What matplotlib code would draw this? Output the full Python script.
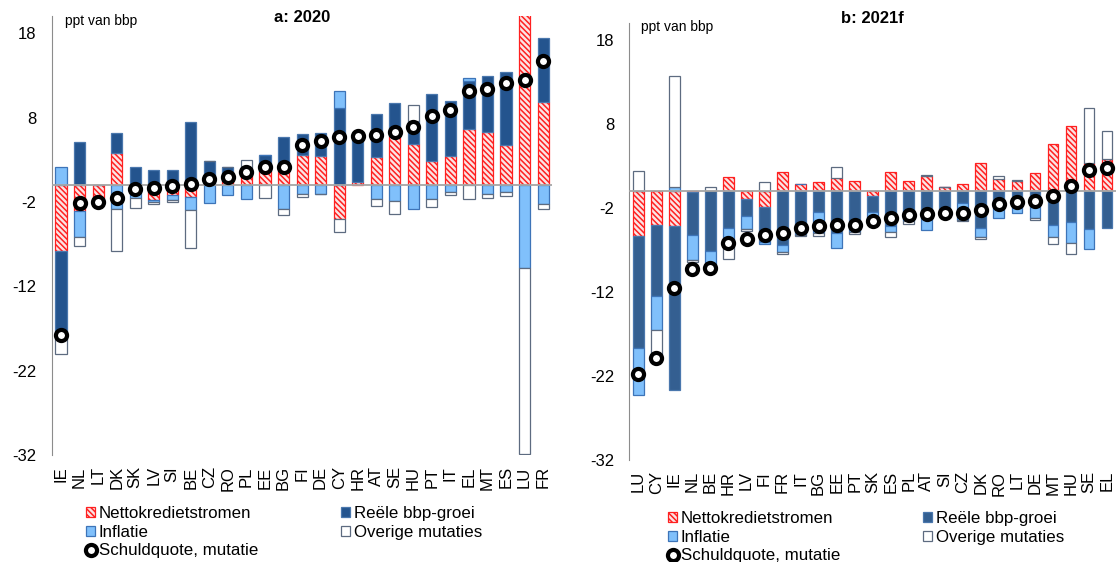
import numpy as np
import matplotlib.pyplot as plt
from matplotlib.patches import Patch
from matplotlib.lines import Line2D

plt.rcParams['font.family'] = ['Liberation Sans', 'DejaVu Sans']
plt.rcParams['hatch.linewidth'] = 1.1
plt.rcParams['axes.unicode_minus'] = False

# a: 2020
left_countries = ['IE', 'NL', 'LT', 'DK', 'SK', 'LV', 'SI', 'BE', 'CZ', 'RO', 'PL', 'EE', 'BG', 'FI',
                  'DE', 'CY', 'HR', 'AT', 'SE', 'HU', 'PT', 'IT', 'EL', 'MT', 'ES', 'LU', 'FR']
left_netto = [-7.8, -3.05, -1.5, 3.76, 0, -1.78, -1.19, -1.46, 0, 0.5, 1.5, 1.7, 1.7, 3.6,
              3.44, -3.96, 0.4, 3.29, 5.86, 4.83, 2.89, 3.48, 6.65, 6.25, 4.71, 20.5, 9.82]
left_reele = [-10.4, 5.07, 0, 2.38, 2.1, 1.74, 1.74, 7.48, 2.81, 1.6, 0.3, 1.86, 3.96, 2.46,
              2.74, 9.14, 5.45, 5.14, 3.92, 2.81, 7.92, 6.46, 5.66, 6.65, 8.71, 0, 7.64]
left_infl = [2.1, -3.05, -0.4, -2.85, -1.54, -0.2, -0.55, -1.5, -2.06, -1.19, -1.7, 0, -2.85, -1.07,
             -1.0, 1.98, 0, -1.7, -1.86, -2.85, -1.7, -0.87, 0.4, -1.03, -0.83, -9.79, -2.26]
left_other = [-1.8, -1.15, -0.1, -4.95, -1.19, -0.28, -0.24, -4.47, 0, 0.1, 1.2, -1.54, -0.71, -0.3,
              -0.1, -1.54, 0, -0.83, -1.62, 1.86, -0.95, -0.28, -1.66, -0.55, -0.51, -22.1, -0.6]
left_debt = [-17.8, -2.06, -2.0, -1.58, -0.48, -0.4, -0.08, 0.12, 0.71, 0.95, 1.5, 2.1, 2.18, 4.79,
             5.19, 5.7, 5.86, 5.98, 6.33, 6.85, 8.19, 8.9, 11.12, 11.36, 12.15, 12.47, 14.65]

# b: 2021f
right_countries = ['LU', 'CY', 'IE', 'NL', 'BE', 'HR', 'LV', 'FI', 'FR', 'IT', 'BG', 'EE', 'PT', 'SK',
                   'ES', 'PL', 'AT', 'SI', 'CZ', 'DK', 'RO', 'LT', 'DE', 'MT', 'HU', 'SE', 'EL']
right_netto = [-5.31, -4.0, -4.12, -0.16, 0, 1.62, -0.95, -1.9, 2.3, 0.83, 1.1, 1.5, 1.19, -0.63,
               2.22, 1.15, 1.74, 0.44, 0.87, 3.37, 1.47, 1.15, 2.14, 5.59, 7.77, 3.33, 3.8]
right_reele = [-13.39, -8.44, -19.57, -5.03, -7.17, -4.44, -2.06, -4.2, -6.38, -5.19, -2.46, -5.0, -4.5, -1.9,
               -4.2, -2.22, -2.61, -2.61, -1.43, -4.4, -1.82, -1.82, -1.94, -4.04, -3.72, -4.52, -4.4]
right_infl = [-5.51, -4.04, 0.44, -2.97, -1.78, -2.14, -1.5, -0.2, -0.87, 0, -2.54, -1.78, -0.4, -0.8,
              -0.71, -1.39, -2.06, 0, -1.98, -1.07, -1.39, -0.8, -1.27, -1.43, -2.46, -2.38, 0]
right_other = [2.38, -3.37, 13.27, -0.24, 0.44, -1.5, -0.3, 1.03, -0.2, -0.1, -0.4, 1.35, -0.2, -0.2,
               -0.59, -0.3, 0.2, 0, -0.16, -0.24, 0.28, 0.16, -0.2, -0.83, -1.27, 6.5, 3.37]
right_debt = [-21.75, -19.85, -11.57, -9.27, -9.15, -6.14, -5.67, -5.23, -5.0, -4.36, -4.2, -4.08, -4.04, -3.53,
              -3.25, -2.81, -2.73, -2.61, -2.61, -2.3, -1.5, -1.35, -1.19, -0.63, 0.55, 2.54, 2.69]

labels = ['Nettokredietstromen', 'Reële bbp-groei', 'Inflatie', 'Overige mutaties', 'Schuldquote, mutatie']
yticks = [18, 8, -2, -12, -22, -32]

net_face = '#fbe4e4'
net_edge = '#ff2020'
net_hatch = '\\\\\\\\\\\\'


def draw_panel(ax, countries, netto, reele, infl, other, debt, title, dark):
    x = np.arange(len(countries))
    styles = [
        dict(facecolor=net_face, edgecolor=net_edge, hatch=net_hatch),
        dict(facecolor=dark, edgecolor='#4a77ad'),
        dict(facecolor='#80c0fb', edgecolor='#3d74b8'),
        dict(facecolor='white', edgecolor='#5d6b80'),
    ]
    pos = np.zeros(len(x))
    neg = np.zeros(len(x))
    # positieve en negatieve delen apart stapelen
    for vals, st in zip([netto, reele, infl, other], styles):
        vals = np.asarray(vals, dtype=float)
        bottom = np.where(vals >= 0, pos, neg)
        ax.bar(x, vals, 0.6, bottom=bottom, linewidth=0.9, zorder=2, **st)
        pos += np.clip(vals, 0, None)
        neg += np.clip(vals, None, 0)
    ax.axhline(0, color='#a6a6a6', lw=1.3, zorder=3)
    ax.plot(x, debt, 'o', ms=8, mfc='white', mec='black', mew=3, zorder=4)

    ax.set_xlim(-0.5, len(x) - 0.5)
    ax.set_ylim(-32, 20)
    ax.set_yticks(yticks)
    ax.set_xticks(x)
    ax.set_xticklabels(countries, rotation=90, fontsize=12)
    ax.tick_params(axis='y', length=0, pad=11, labelsize=12)
    ax.tick_params(axis='x', length=0, pad=8)
    for side in ['top', 'right', 'bottom']:
        ax.spines[side].set_visible(False)
    ax.spines['left'].set_color('#8c8c8c')
    ax.text(0.5, title[1], title[0], transform=ax.transAxes, ha='center', va='center',
            fontsize=12, fontweight='bold')


def add_legend(dark, anchor):
    h_net = Patch(facecolor=net_face, edgecolor=net_edge, hatch=net_hatch, linewidth=0.9)
    h_real = Patch(facecolor=dark, edgecolor='#4a77ad', linewidth=0.9)
    h_inf = Patch(facecolor='#80c0fb', edgecolor='#3d74b8', linewidth=0.9)
    h_oth = Patch(facecolor='white', edgecolor='#5d6b80', linewidth=0.9)
    h_debt = Line2D([], [], marker='o', ls='none', ms=8, mfc='white', mec='black', mew=3)
    # rij voor rij: Netto | Reële, Inflatie | Overige, Schuldquote
    handles = [h_net, h_inf, h_debt, h_real, h_oth]
    labs = [labels[0], labels[2], labels[4], labels[1], labels[3]]
    fig.legend(handles, labs, ncol=2, loc='upper left', bbox_to_anchor=anchor, frameon=False,
               fontsize=12.2, handlelength=0.55, handleheight=0.55, handletextpad=0.2,
               labelspacing=0.22, columnspacing=4.9, borderpad=0, borderaxespad=0)


fig = plt.figure(figsize=(11.2, 5.62), dpi=100)
ax1 = fig.add_axes([0.0462, 0.190, 0.447, 0.781])
ax2 = fig.add_axes([0.5619, 0.1815, 0.4346, 0.7776])

draw_panel(ax1, left_countries, left_netto, left_reele, left_infl, left_other, left_debt,
           ('a: 2020', 0.997), '#24548e')
draw_panel(ax2, right_countries, right_netto, right_reele, right_infl, right_other, right_debt,
           ('b: 2021f', 1.011), '#345f91')

ax1.text(0.0265, 0.989, 'ppt van bbp', transform=ax1.transAxes, va='center', fontsize=10)
ax2.text(0.024, 0.991, 'ppt van bbp', transform=ax2.transAxes, va='center', fontsize=10)

add_legend('#24548e', (86 / 1120, 1 - 506 / 562))
add_legend('#345f91', (668 / 1120, 1 - 511 / 562))

fig.savefig('out.png', dpi=100)
